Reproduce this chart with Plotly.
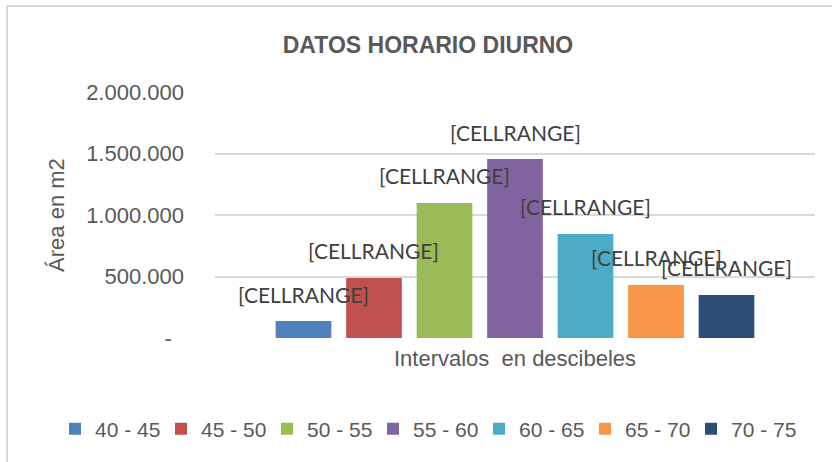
import plotly.graph_objects as go

categories = ["40 - 45", "45 - 50", "50 - 55", "55 - 60", "60 - 65", "65 - 70", "70 - 75"]
values = [138000, 488000, 1098000, 1455000, 846000, 431000, 350000]
colors = ["#4F81BD", "#C0504D", "#9BBB59", "#8064A2", "#4BACC6", "#F79646", "#2C4D75"]
label_text = "[CELLRANGE]"
y_tickvals = [0, 500000, 1000000, 1500000, 2000000]
y_ticktext = ["-\u00a0\u00a0", "500.000", "1.000.000", "1.500.000", "2.000.000"]
x_label = "Intervalos \u00a0en descibeles"
title_text = "DATOS HORARIO DIURNO"
y_title = "Área en m2"

FONT = "Liberation Sans, Arial, sans-serif"
GRAY = "#595959"

fig = go.Figure()
for i, (cat, val, col) in enumerate(zip(categories, values, colors)):
    fig.add_trace(go.Bar(x=[i], y=[val], name=cat, marker_color=col,
                         width=0.79, marker_line_width=0,
                         legend="legend" if i < 4 else "legend2"))
    fig.add_annotation(x=i, y=val, text=label_text, showarrow=False,
                       yshift=27, yanchor="middle", xanchor="center",
                       font=dict(family="Lato, Carlito, sans-serif", size=21, color="#404040"))

legend_common = dict(orientation="h", xref="container", yref="container",
                     y=1-429/462, xanchor="left", yanchor="middle",
                     font=dict(family=FONT, size=21, color=GRAY),
                     entrywidth=61, entrywidthmode="pixels", itemwidth=30,
                     traceorder="normal", bgcolor="rgba(0,0,0,0)")

fig.update_layout(
    width=832, height=462,
    margin=dict(l=215, r=17, t=92, b=124),
    paper_bgcolor="white", plot_bgcolor="white",
    barmode="overlay",
    title=dict(text=title_text, x=428/832, y=1-45/462, xanchor="center", yanchor="middle",
               font=dict(family=FONT, size=23, color=GRAY, weight="bold")),
    showlegend=True,
    legend=dict(x=55/832, **legend_common),
    legend2=dict(x=(55+4*106)/832, **legend_common),
    xaxis=dict(range=[-1.255, 7.255], tickmode="array", tickvals=[3], ticktext=[x_label],
               showgrid=False, zeroline=False, showline=False, ticks="", automargin=False,
               ticklabelstandoff=5,
               tickfont=dict(family=FONT, size=22, color=GRAY), fixedrange=True),
    yaxis=dict(range=[0, 2000000], tickmode="array", tickvals=y_tickvals, ticktext=y_ticktext,
               showgrid=True, gridcolor="#D9D9D9", gridwidth=2, zeroline=False, showline=False,
               ticks="", ticklabelstandoff=30, automargin=False,
               tickfont=dict(family=FONT, size=22, color=GRAY),
               title=dict(text=y_title, standoff=15, font=dict(family=FONT, size=22, color=GRAY))),
    shapes=[
        dict(type="line", xref="paper", yref="paper", x0=(7-215)/600, x1=(832-215)/600,
             y0=(338-6)/246, y1=(338-6)/246, line=dict(color="#D9D9D9", width=2)),
        dict(type="line", xref="paper", yref="paper", x0=(7-215)/600, x1=(7-215)/600,
             y0=(338-6)/246, y1=(338-470)/246, line=dict(color="#D9D9D9", width=2)),
    ],
)

fig.write_html("out.html", config={"displayModeBar": False},
               post_script="document.body.style.margin='0';")
